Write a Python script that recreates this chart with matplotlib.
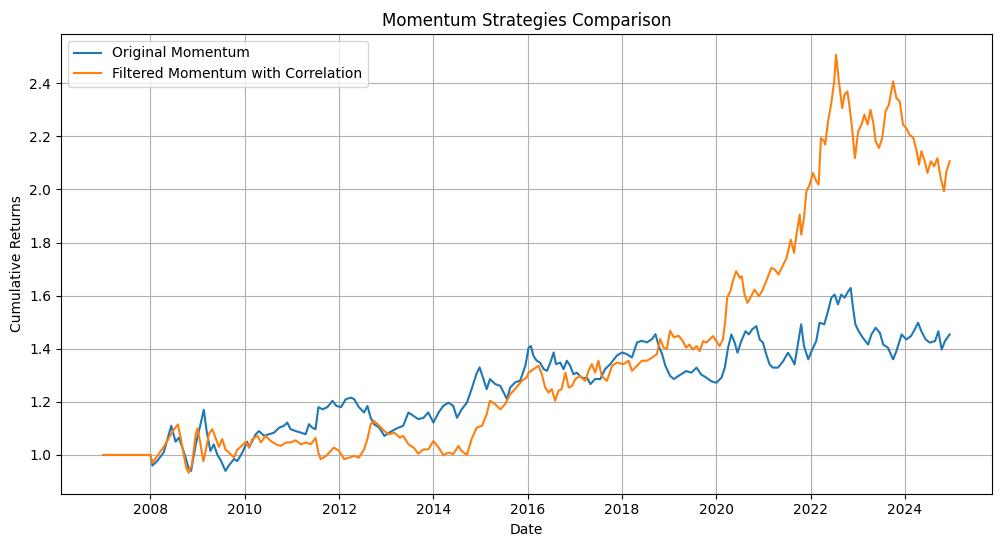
import numpy as np
import pandas as pd
import matplotlib
matplotlib.use("Agg")
import matplotlib.pyplot as plt
import matplotlib.dates as mdates

# points: (decimal year, cumulative return)
original_momentum = [
    (2007.0, 1.0), (2008.0, 1.0), (2008.04, 0.96), (2008.14, 0.977), (2008.28, 1.01), (2008.44, 1.11),
    (2008.53, 1.05), (2008.60, 1.065), (2008.71, 1.01), (2008.81, 0.95), (2008.86, 0.94), (2008.96, 1.04),
    (2009.06, 1.115), (2009.13, 1.17), (2009.19, 1.09), (2009.27, 1.015), (2009.34, 1.04), (2009.42, 1.0),
    (2009.49, 0.98), (2009.59, 0.94), (2009.66, 0.96), (2009.77, 0.985), (2009.84, 0.977), (2009.95, 1.01),
    (2010.05, 1.05), (2010.09, 1.028), (2010.23, 1.078), (2010.30, 1.09), (2010.41, 1.072), (2010.51, 1.078),
    (2010.62, 1.084), (2010.73, 1.103), (2010.83, 1.11), (2010.90, 1.122), (2010.97, 1.097), (2011.08, 1.09),
    (2011.19, 1.084), (2011.29, 1.078), (2011.36, 1.116), (2011.43, 1.103), (2011.50, 1.097), (2011.56, 1.18),
    (2011.65, 1.172), (2011.75, 1.18), (2011.86, 1.204), (2011.94, 1.185), (2012.04, 1.18), (2012.14, 1.21),
    (2012.25, 1.216), (2012.32, 1.21), (2012.42, 1.18), (2012.53, 1.16), (2012.60, 1.185), (2012.67, 1.14),
    (2012.74, 1.116), (2012.85, 1.103), (2012.96, 1.072), (2013.06, 1.084), (2013.19, 1.097), (2013.26, 1.103),
    (2013.36, 1.11), (2013.47, 1.16), (2013.58, 1.147), (2013.68, 1.135), (2013.79, 1.14), (2013.89, 1.16),
    (2014.0, 1.122), (2014.11, 1.16), (2014.21, 1.185), (2014.32, 1.197), (2014.42, 1.185), (2014.50, 1.14),
    (2014.60, 1.172), (2014.71, 1.197), (2014.81, 1.248), (2014.91, 1.304), (2014.98, 1.33), (2015.05, 1.292),
    (2015.13, 1.248), (2015.20, 1.286), (2015.31, 1.267), (2015.42, 1.26), (2015.49, 1.235), (2015.56, 1.21),
    (2015.63, 1.254), (2015.73, 1.273), (2015.84, 1.28), (2015.95, 1.336), (2016.02, 1.405), (2016.07, 1.41),
    (2016.12, 1.374), (2016.19, 1.355), (2016.26, 1.348), (2016.34, 1.323), (2016.41, 1.317), (2016.48, 1.348),
    (2016.55, 1.386), (2016.60, 1.342), (2016.69, 1.348), (2016.76, 1.323), (2016.83, 1.355), (2016.90, 1.336),
    (2016.97, 1.304), (2017.04, 1.31), (2017.15, 1.29), (2017.26, 1.29), (2017.33, 1.267), (2017.43, 1.286),
    (2017.54, 1.286), (2017.64, 1.323), (2017.75, 1.342), (2017.89, 1.374), (2018.0, 1.386), (2018.10, 1.38),
    (2018.21, 1.367), (2018.32, 1.424), (2018.42, 1.43), (2018.53, 1.424), (2018.64, 1.437), (2018.71, 1.455),
    (2018.78, 1.41), (2018.85, 1.38), (2018.92, 1.336), (2019.02, 1.298), (2019.10, 1.286), (2019.20, 1.298),
    (2019.36, 1.316), (2019.47, 1.31), (2019.58, 1.329), (2019.68, 1.303), (2019.79, 1.291), (2019.89, 1.278),
    (2020.0, 1.272), (2020.11, 1.291), (2020.18, 1.329), (2020.25, 1.404), (2020.32, 1.454), (2020.39, 1.423),
    (2020.45, 1.385), (2020.53, 1.429), (2020.62, 1.466), (2020.69, 1.454), (2020.76, 1.473), (2020.85, 1.485),
    (2020.92, 1.435), (2020.99, 1.423), (2021.06, 1.379), (2021.13, 1.341), (2021.20, 1.329), (2021.31, 1.329),
    (2021.42, 1.354), (2021.52, 1.385), (2021.59, 1.366), (2021.66, 1.341), (2021.73, 1.416), (2021.80, 1.492),
    (2021.86, 1.41), (2021.95, 1.36), (2022.02, 1.391), (2022.12, 1.429), (2022.19, 1.498), (2022.29, 1.492),
    (2022.37, 1.542), (2022.44, 1.592), (2022.51, 1.604), (2022.58, 1.567), (2022.65, 1.604), (2022.72, 1.592),
    (2022.80, 1.617), (2022.85, 1.629), (2022.90, 1.554), (2022.95, 1.492), (2023.02, 1.466), (2023.11, 1.441),
    (2023.22, 1.416), (2023.29, 1.454), (2023.38, 1.479), (2023.47, 1.46), (2023.54, 1.416), (2023.64, 1.404),
    (2023.75, 1.36), (2023.82, 1.391), (2023.93, 1.454), (2024.03, 1.435), (2024.13, 1.448), (2024.21, 1.473),
    (2024.28, 1.498), (2024.35, 1.466), (2024.44, 1.435), (2024.53, 1.423), (2024.64, 1.429), (2024.71, 1.466),
    (2024.78, 1.397), (2024.85, 1.429), (2024.95, 1.454),
]

filtered_momentum = [
    (2007.0, 1.0), (2008.0, 1.0), (2008.04, 0.97), (2008.14, 0.996), (2008.28, 1.03), (2008.39, 1.065),
    (2008.50, 1.097), (2008.58, 1.115), (2008.64, 1.065), (2008.71, 0.996), (2008.76, 0.95), (2008.81, 0.933),
    (2008.88, 0.965), (2008.96, 1.08), (2009.00, 1.10), (2009.06, 1.04), (2009.12, 0.977), (2009.17, 1.015),
    (2009.24, 1.08), (2009.31, 1.097), (2009.38, 1.065), (2009.45, 1.03), (2009.52, 1.06), (2009.59, 1.02),
    (2009.66, 1.01), (2009.77, 0.99), (2009.84, 1.02), (2009.91, 1.03), (2010.02, 1.05), (2010.09, 1.028),
    (2010.16, 1.06), (2010.27, 1.072), (2010.34, 1.047), (2010.44, 1.072), (2010.55, 1.053), (2010.66, 1.04),
    (2010.76, 1.034), (2010.87, 1.047), (2010.97, 1.047), (2011.08, 1.055), (2011.19, 1.04), (2011.29, 1.047),
    (2011.40, 1.04), (2011.50, 1.065), (2011.56, 1.009), (2011.61, 0.984), (2011.72, 0.996), (2011.82, 1.015),
    (2011.89, 1.028), (2012.0, 1.015), (2012.11, 0.984), (2012.21, 0.99), (2012.32, 0.996), (2012.42, 0.99),
    (2012.53, 1.021), (2012.60, 1.06), (2012.67, 1.116), (2012.74, 1.128), (2012.85, 1.11), (2012.96, 1.09),
    (2013.06, 1.078), (2013.17, 1.084), (2013.29, 1.065), (2013.36, 1.072), (2013.47, 1.04), (2013.58, 1.028),
    (2013.68, 1.005), (2013.79, 1.021), (2013.89, 1.021), (2014.0, 1.053), (2014.11, 1.028), (2014.21, 1.0),
    (2014.32, 1.009), (2014.42, 1.003), (2014.53, 1.034), (2014.60, 1.015), (2014.71, 1.0), (2014.81, 1.06),
    (2014.92, 1.103), (2015.03, 1.11), (2015.13, 1.153), (2015.20, 1.204), (2015.31, 1.191), (2015.42, 1.172),
    (2015.52, 1.191), (2015.63, 1.229), (2015.73, 1.248), (2015.88, 1.28), (2015.98, 1.292), (2016.02, 1.31),
    (2016.12, 1.323), (2016.23, 1.336), (2016.30, 1.304), (2016.37, 1.254), (2016.44, 1.235), (2016.51, 1.248),
    (2016.58, 1.204), (2016.65, 1.241), (2016.72, 1.248), (2016.80, 1.31), (2016.87, 1.254), (2016.94, 1.26),
    (2017.01, 1.286), (2017.11, 1.298), (2017.22, 1.279), (2017.29, 1.317), (2017.36, 1.342), (2017.43, 1.31),
    (2017.50, 1.355), (2017.57, 1.298), (2017.68, 1.279), (2017.79, 1.336), (2017.89, 1.348), (2018.03, 1.342),
    (2018.14, 1.355), (2018.21, 1.317), (2018.32, 1.336), (2018.42, 1.355), (2018.53, 1.355), (2018.64, 1.367),
    (2018.74, 1.38), (2018.81, 1.437), (2018.88, 1.405), (2018.95, 1.399), (2019.02, 1.468), (2019.10, 1.443),
    (2019.20, 1.449), (2019.29, 1.429), (2019.36, 1.404), (2019.43, 1.416), (2019.50, 1.397), (2019.58, 1.41),
    (2019.65, 1.391), (2019.72, 1.429), (2019.79, 1.423), (2019.86, 1.435), (2019.93, 1.448), (2020.0, 1.429),
    (2020.07, 1.41), (2020.14, 1.435), (2020.19, 1.504), (2020.23, 1.592), (2020.30, 1.617), (2020.35, 1.655),
    (2020.42, 1.692), (2020.50, 1.667), (2020.54, 1.673), (2020.60, 1.604), (2020.66, 1.573), (2020.74, 1.598),
    (2020.81, 1.623), (2020.90, 1.598), (2020.97, 1.617), (2021.06, 1.655), (2021.17, 1.705), (2021.24, 1.698),
    (2021.32, 1.68), (2021.42, 1.717), (2021.49, 1.742), (2021.58, 1.811), (2021.65, 1.761), (2021.70, 1.83),
    (2021.77, 1.905), (2021.80, 1.83), (2021.86, 1.893), (2021.91, 1.993), (2021.98, 2.018), (2022.05, 2.062),
    (2022.12, 2.031), (2022.17, 2.018), (2022.22, 2.194), (2022.29, 2.181), (2022.31, 2.169), (2022.37, 2.256),
    (2022.44, 2.325), (2022.50, 2.407), (2022.54, 2.507), (2022.60, 2.407), (2022.67, 2.307), (2022.72, 2.357),
    (2022.78, 2.369), (2022.83, 2.307), (2022.88, 2.231), (2022.94, 2.118), (2023.01, 2.219), (2023.08, 2.244),
    (2023.14, 2.282), (2023.21, 2.244), (2023.27, 2.30), (2023.33, 2.25), (2023.38, 2.181), (2023.45, 2.156),
    (2023.52, 2.194), (2023.59, 2.294), (2023.66, 2.319), (2023.75, 2.407), (2023.82, 2.344), (2023.89, 2.332),
    (2023.96, 2.244), (2024.03, 2.231), (2024.10, 2.206), (2024.18, 2.194), (2024.25, 2.144), (2024.30, 2.093),
    (2024.35, 2.144), (2024.42, 2.106), (2024.48, 2.062), (2024.55, 2.106), (2024.62, 2.087), (2024.69, 2.118),
    (2024.76, 2.043), (2024.83, 1.993), (2024.88, 2.068), (2024.95, 2.106),
]


def to_dates(years):
    years = np.asarray(years)
    base = pd.Timestamp("2007-01-01")
    return base + pd.to_timedelta((years - 2007.0) * 365.25, unit="D")


orig_years, orig_values = zip(*original_momentum)
filt_years, filt_values = zip(*filtered_momentum)

fig = plt.figure(figsize=(10.01, 5.47), dpi=100)
ax = fig.add_axes([0.061, 0.0975, 0.930, 0.8405])

ax.plot(to_dates(orig_years), orig_values, label="Original Momentum")
ax.plot(to_dates(filt_years), filt_values, label="Filtered Momentum with Correlation")

ax.xaxis.set_major_locator(mdates.YearLocator(2))
ax.xaxis.set_major_formatter(mdates.DateFormatter("%Y"))
ax.set_title("Momentum Strategies Comparison")
ax.set_xlabel("Date")
ax.set_ylabel("Cumulative Returns")
ax.legend(loc="upper left")
ax.grid(True)

fig.savefig("out.png", dpi=100)
